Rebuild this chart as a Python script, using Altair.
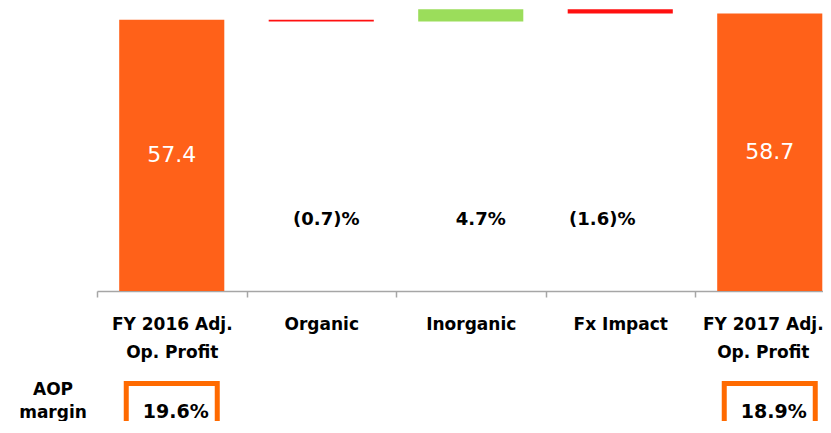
import altair as alt
import pandas as pd

# ---- data ----
categories = ["FY 2016 Adj.|Op. Profit", "Organic", "Inorganic", "Fx Impact", "FY 2017 Adj.|Op. Profit"]
values = [57.4, -0.4, 2.6, -0.9, 58.7]
kinds = ["total", "delta", "delta", "delta", "total"]
bar_labels = ["57.4", "", "", "", "58.7"]
pct_labels = ["", "(0.7)%", "4.7%", "(1.6)%", ""]
margin_labels = ["19.6%", "", "", "", "18.9%"]
side_label = "AOP\nmargin"

# ---- waterfall derivation ----
starts, ends, colkeys = [], [], []
run = 0.0
for v, k in zip(values, kinds):
    if k == "total":
        s, e = 0.0, v
        run = v
        colkeys.append("total")
    else:
        s, e = run, run + v
        run = e
        colkeys.append("up" if v >= 0 else "down")
    starts.append(s)
    ends.append(e)

df = pd.DataFrame({
    "cat": categories,
    "start": starts,
    "end": ends,
    "mid": [(s + e) / 2 for s, e in zip(starts, ends)],
    "ckey": colkeys,
    "bar_label": bar_labels,
    "pct_label": pct_labels,
    "margin_label": margin_labels,
})

# ---- styles ----
ORANGE = "#FF6119"
GREEN = "#9BDD5B"
RED = "#FF1010"
BOX = "#FF6A00"
FONT = "DejaVu Sans"
STEP = 149.5
PCT_LABEL_Y = 15
pct_dx = {"Organic": 5, "Inorganic": 10, "Fx Impact": -18}
last_cat = categories[-1]

xscale = alt.Scale(domain=categories, range=[0, STEP * len(categories)], paddingInner=0, paddingOuter=0)
yscale = alt.Scale(domain=[0, 59.86], nice=False, zero=True)

x_enc = alt.X(
    "cat:N", sort=categories, scale=xscale,
    axis=alt.Axis(
        title=None, labelAngle=0, tickBand="extent",
        labelExpr="split(datum.label, '|')",
        labelFont=FONT, labelFontWeight="bold", labelFontSize=17, labelColor="black",
        labelLineHeight=28, labelPadding=19, labelLimit=300,
        labelOffset=alt.condition(f"datum.value == '{last_cat}'", alt.value(-7), alt.value(0)),
        domainColor="#A6A6A6", domainWidth=1.5, tickColor="#A6A6A6", tickWidth=1.5, tickSize=6,
        grid=False,
    ),
)

base = alt.Chart(df)

bars = base.mark_bar(width=alt.RelativeBandSize(0.703)).encode(
    x=x_enc,
    y=alt.Y("start:Q", scale=yscale, axis=None),
    y2="end:Q",
    color=alt.Color("ckey:N", scale=alt.Scale(domain=["total", "up", "down"], range=[ORANGE, GREEN, RED]), legend=None),
)

total_text = base.transform_filter("datum.bar_label != ''").mark_text(
    font=FONT, fontSize=22, color="white", baseline="middle"
).encode(x=alt.X("cat:N", sort=categories, scale=xscale), y=alt.Y("mid:Q", scale=yscale), text="bar_label:N")

pct_layers = []
for name, dx in pct_dx.items():
    pct_layers.append(
        base.transform_filter(alt.datum.cat == name).mark_text(
            font=FONT, fontSize=18, fontWeight="bold", color="black", baseline="middle", dx=dx
        ).encode(x=alt.X("cat:N", sort=categories, scale=xscale), y=alt.Y("y:Q", scale=yscale), text="pct_label:N")
        .transform_calculate(y=str(PCT_LABEL_Y))
    )

boxes = base.transform_filter("datum.margin_label != ''").mark_rect(
    width=alt.RelativeBandSize(91 / STEP), fill="white", stroke=BOX, strokeWidth=5
).encode(x=alt.X("cat:N", sort=categories, scale=xscale), y=alt.value(375.5), y2=alt.value(470))

box_text = base.transform_filter("datum.margin_label != ''").mark_text(
    font=FONT, fontSize=19, fontWeight="bold", color="black", baseline="middle", dx=4
).encode(x=alt.X("cat:N", sort=categories, scale=xscale), y=alt.value(404), text="margin_label:N")

side = alt.Chart(pd.DataFrame({"t": [side_label]})).mark_text(
    font=FONT, fontSize=17, fontWeight="bold", color="black", baseline="middle", lineBreak="\n", lineHeight=23
).encode(x=alt.value(-44), y=alt.value(382), text="t:N")

chart = alt.layer(bars, total_text, *pct_layers, boxes, box_text, side).properties(
    width=726, height=283,
    autosize=alt.AutoSizeParams(type="none"),
    padding={"left": 89, "top": 0, "right": 0, "bottom": 130},
).configure_view(stroke=None)

chart.save("out.html", embed_options={"renderer": "svg", "actions": False})
